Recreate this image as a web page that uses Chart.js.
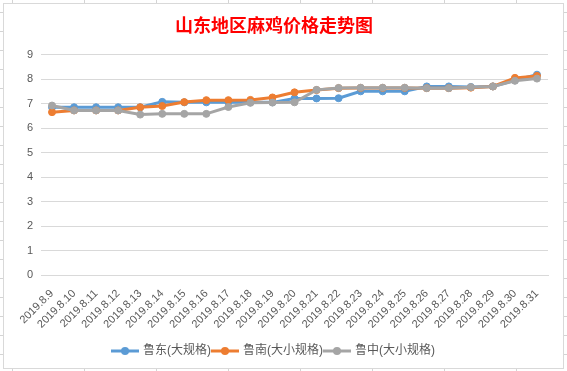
<!DOCTYPE html>
<html>
<head>
<meta charset="utf-8">
<script src="https://cdn.jsdelivr.net/npm/chart.js@4/dist/chart.umd.min.js"></script>
<style>
	html, body { margin: 0; padding: 0; background: #fff; }
	body {
		width: 567px; height: 371px; position: relative; overflow: hidden;
		/* spreadsheet cells behind the chart */
		background-image:
			repeating-linear-gradient(to right, transparent 0, transparent 12px, #d4d4d4 12px, #d4d4d4 13px, transparent 13px, transparent 72px),
			repeating-linear-gradient(to bottom, transparent 0, transparent 12px, #d4d4d4 12px, #d4d4d4 13px, transparent 13px, transparent 19px);
	}
	#box {
		position: absolute; left: 3px; top: 3px; width: 559px; height: 364px;
		background: #fff; border: 1px solid #d9d9d9;
	}
	#chart { position: absolute; left: 0; top: 0; }
</style>
</head>
<body>
<div id="box"></div>
<canvas id="chart" width="567" height="371"></canvas>
<script>
	// Dates on the category axis
	var DATES = ['2019.8.9', '2019.8.10', '2019.8.11', '2019.8.12', '2019.8.13', '2019.8.14',
		'2019.8.15', '2019.8.16', '2019.8.17', '2019.8.18', '2019.8.19', '2019.8.20',
		'2019.8.21', '2019.8.22', '2019.8.23', '2019.8.24', '2019.8.25', '2019.8.26',
		'2019.8.27', '2019.8.28', '2019.8.29', '2019.8.30', '2019.8.31'];

	// Prices
	var LUDONG = [6.85, 6.85, 6.85, 6.85, 6.85, 7.07, 7.05, 7.05, 7.05, 7.05, 7.05, 7.21,
		7.21, 7.22, 7.5, 7.5, 7.5, 7.7, 7.7, 7.68, 7.7, 7.95, 8.18];
	var LUNAN = [6.65, 6.72, 6.72, 6.72, 6.85, 6.9, 7.06, 7.14, 7.14, 7.15, 7.25, 7.46,
		7.55, 7.63, 7.64, 7.64, 7.64, 7.63, 7.63, 7.65, 7.7, 8.05, 8.13];
	var LUZHONG = [6.92, 6.72, 6.72, 6.72, 6.55, 6.58, 6.58, 6.58, 6.86, 7.03, 7.04, 7.05,
		7.56, 7.64, 7.65, 7.65, 7.65, 7.63, 7.63, 7.67, 7.7, 7.93, 8.02];

	var SERIES_NAMES = ['鲁东(大规格)', '鲁南(大小规格)', '鲁中(大小规格)'];
	var SERIES_COLORS = ['#5B9BD5', '#ED7D31', '#A5A5A5'];
	var Y_TICKS = { min: 0, max: 9, step: 1 };

	var LATIN = '"Liberation Sans", "Noto Sans CJK SC", sans-serif';

	// Legend marker: short line with a dot in the middle, like Excel
	function legendMarker(color) {
		var c = document.createElement('canvas');
		c.width = 28; c.height = 10;
		var g = c.getContext('2d');
		g.strokeStyle = color;
		g.lineWidth = 3;
		g.beginPath(); g.moveTo(0, 5); g.lineTo(28, 5); g.stroke();
		g.fillStyle = color;
		g.beginPath(); g.arc(14, 5, 4, 0, Math.PI * 2); g.fill();
		return c;
	}

	function buildDataset(i, data) {
		return {
			label: SERIES_NAMES[i],
			data: data,
			borderColor: SERIES_COLORS[i],
			backgroundColor: SERIES_COLORS[i],
			borderWidth: 3,
			pointRadius: 3.5,
			pointBorderWidth: 1,
			pointBackgroundColor: SERIES_COLORS[i],
			pointBorderColor: SERIES_COLORS[i],
			tension: 0,
			fill: false,
			order: 3 - i // later series drawn on top
		};
	}

	var markers = SERIES_COLORS.map(legendMarker);

	new Chart(document.getElementById('chart'), {
		type: 'line',
		data: {
			labels: DATES,
			datasets: [buildDataset(0, LUDONG), buildDataset(1, LUNAN), buildDataset(2, LUZHONG)]
		},
		options: {
			responsive: false,
			animation: false,
			layout: { padding: { left: 0, right: 19, top: 0, bottom: 4 } },
			plugins: {
				tooltip: { enabled: false },
				title: {
					display: true,
					text: '山东地区麻鸡价格走势图',
					color: '#FF0000',
					font: { family: '"Noto Sans CJK SC", sans-serif', size: 18, weight: 'bold', lineHeight: 1.2 },
					padding: { top: 14, bottom: 19 }
				},
				legend: {
					position: 'bottom',
					labels: {
						usePointStyle: true,
						pointStyleWidth: 24,
						padding: 2,
						color: '#595959',
						font: { family: LATIN, size: 12 },
						sort: function (a, b) { return a.datasetIndex - b.datasetIndex; },
						generateLabels: function (chart) {
							var items = Chart.defaults.plugins.legend.labels.generateLabels(chart);
							items.forEach(function (it) { it.pointStyle = markers[it.datasetIndex]; });
							return items;
						}
					}
				}
			},
			scales: {
				x: {
					offset: true,
					grid: { display: false },
					border: { display: true, color: '#d9d9d9' },
					ticks: {
						color: '#595959',
						font: { family: LATIN, size: 11 },
						minRotation: 45,
						maxRotation: 45,
						autoSkip: false,
						padding: 4
					},
					afterFit: function (scale) { scale.height = 68; }
				},
				y: {
					min: Y_TICKS.min,
					max: Y_TICKS.max,
					grid: { color: '#d9d9d9', drawTicks: false },
					border: { display: false },
					ticks: {
						stepSize: Y_TICKS.step,
						color: '#595959',
						font: { family: LATIN, size: 11 },
						padding: 8
					},
					afterFit: function (scale) { scale.width = 41; }
				}
			}
		}
	});
</script>
</body>
</html>
